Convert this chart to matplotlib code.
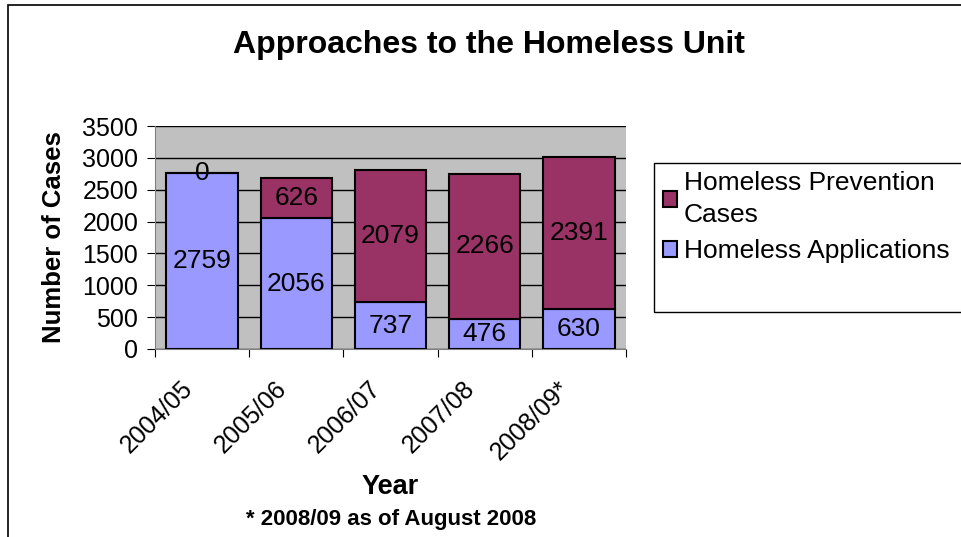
import matplotlib.pyplot as plt
from matplotlib.patches import Rectangle
import matplotlib.transforms as mtransforms
import numpy as np

plt.rcParams['font.family'] = ['Liberation Sans', 'DejaVu Sans']

years = ["2004/05", "2005/06", "2006/07", "2007/08", "2008/09*"]
applications = [2759, 2056, 737, 476, 630]
prevention = [0, 626, 2079, 2266, 2391]
yticks = [0, 500, 1000, 1500, 2000, 2500, 3000, 3500]

blue = "#9999FF"
maroon = "#993366"

fig = plt.figure(figsize=(9.61, 5.37), dpi=100)
# outer chart border (runs off the right and bottom edges)
fig.patches.append(Rectangle((8 / 961, -0.05), 1.0, 1 - 5 / 537 + 0.05,
                             transform=fig.transFigure, fill=False,
                             edgecolor="black", linewidth=1.2))

ax = fig.add_axes([155 / 961, 1 - 349 / 537, 471 / 961, 223 / 537])
ax.set_facecolor("#C0C0C0")

x = np.arange(len(years))
b1 = ax.bar(x, applications, width=0.76, color=blue, edgecolor="black",
            linewidth=1.5, label="Homeless Applications", zorder=3)
b2 = ax.bar(x, prevention, width=0.76, bottom=applications, color=maroon,
            edgecolor="black", linewidth=1.5, label="Homeless Prevention\nCases", zorder=3)

# value labels in the middle of each segment
for i in range(len(years)):
    ax.text(x[i], applications[i] / 2, str(applications[i]), ha="center",
            va="center", fontsize=19, zorder=4)
    ax.text(x[i], applications[i] + prevention[i] / 2, str(prevention[i]),
            ha="center", va="center", fontsize=19, zorder=4)

ax.set_xlim(-0.5, len(years) - 0.5)
ax.set_ylim(0, 3500)
ax.set_yticks(yticks)
ax.yaxis.grid(True, color="black", linewidth=1, zorder=0)
ax.set_xticks(np.arange(len(years) + 1) - 0.5, minor=False)
ax.set_xticklabels([])
ax.set_xticks(x, minor=True)
ax.set_xticklabels(years, minor=True, rotation=45, ha="right",
                   rotation_mode="anchor", fontsize=18)
ax.tick_params(axis="x", which="minor", length=0, pad=10)
ax.tick_params(axis="x", which="major", length=6, direction="out")
ax.tick_params(axis="y", length=6, labelsize=18, pad=6)
shift = mtransforms.ScaledTranslation(-22 / 100, -14 / 100, fig.dpi_scale_trans)
for lbl in ax.get_xticklabels(minor=True):
    lbl.set_transform(lbl.get_transform() + shift)
for s in ["top", "right"]:
    ax.spines[s].set_visible(False)
ax.spines["left"].set_color("#808080")
ax.spines["bottom"].set_color("#808080")

ax.set_ylabel("Number of Cases", fontsize=18.5, fontweight="bold", labelpad=12)
fig.text(390 / 961, 1 - 487 / 537, "Year", ha="center", va="center",
         fontsize=19.5, fontweight="bold")
fig.text(391 / 961, 1 - 519 / 537, "* 2008/09 as of August 2008", ha="center",
         va="center", fontsize=16, fontweight="bold")
fig.text(489 / 961, 1 - 45 / 537, "Approaches to the Homeless Unit", ha="center",
         va="center", fontsize=23, fontweight="bold")

# legend box drawn separately, it runs past the right edge
fig.patches.append(Rectangle((654 / 961, 1 - 312 / 537), 0.5, 149 / 537,
                             transform=fig.transFigure, fill=False,
                             edgecolor="black", linewidth=1))
handles = [b2, b1]
leg = fig.legend(handles, [h.get_label() for h in handles],
                 loc="upper left", bbox_to_anchor=(660 / 961, 1 - 168 / 537),
                 fontsize=19, frameon=False,
                 handlelength=0.55, handleheight=0.55, handletextpad=0.25,
                 borderpad=0.1, labelspacing=0.45, borderaxespad=0)
for t in leg.get_texts():
    t.set_linespacing(1.45)

fig.savefig("out.png", dpi=100)
